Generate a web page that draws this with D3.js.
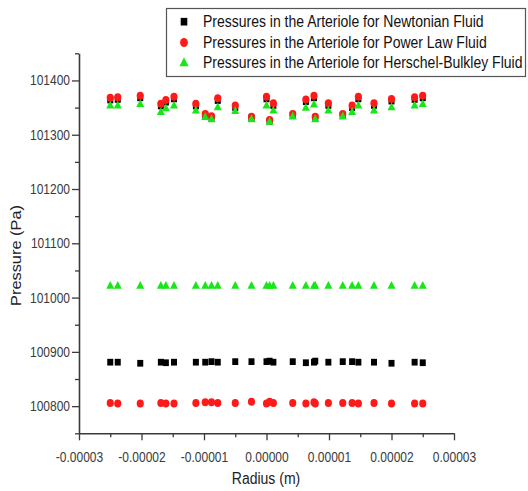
<!DOCTYPE html>
<html>
<head>
<meta charset="utf-8">
<script src="https://cdn.jsdelivr.net/npm/d3@7"></script>
<style>
  html, body { margin: 0; padding: 0; background: #fff; }
  svg { display: block; font-family: "Liberation Sans", Arial, sans-serif; }
</style>
</head>
<body>
<svg id="chart" width="528" height="491"></svg>
<script>
// ---- data (radius in metres, pressure in Pa) ----
const radius = [-2.5e-5, -2.38e-5, -2.02e-5, -1.69e-5, -1.61e-5, -1.48e-5, -1.13e-5, -0.98e-5, -0.88e-5,
  -0.78e-5, -0.5e-5, -0.24e-5, 0, 0.05e-5, 0.11e-5, 0.42e-5, 0.63e-5, 0.76e-5, 0.78e-5, 0.99e-5,
  1.22e-5, 1.37e-5, 1.47e-5, 1.72e-5, 2.0e-5, 2.37e-5, 2.5e-5];

const newtonianUpper = [101364, 101365, 101368, 101353, 101360, 101366, 101353, 101336, 101332,
  101363, 101350, 101331, 101366, 101325, 101354, 101336, 101361, 101368, 101331, 101354,
  101336, 101350, 101366, 101354, 101362, 101365, 101368];
const newtonianLower = [100881, 100881, 100879, 100881, 100880, 100881, 100881, 100881, 100882,
  100881, 100882, 100882, 100882, 100883, 100881, 100882, 100880, 100881, 100883, 100881,
  100882, 100882, 100881, 100881, 100879, 100881, 100880];

const powerLawUpper = [101368, 101369, 101372, 101357, 101364, 101370, 101357, 101338, 101334,
  101367, 101354, 101333, 101370, 101327, 101358, 101338, 101365, 101372, 101333, 101358,
  101338, 101354, 101370, 101358, 101366, 101369, 101372];
const powerLawLower = [100806, 100805, 100805, 100806, 100805, 100805, 100806, 100807, 100807,
  100806, 100806, 100808, 100805, 100808, 100806, 100806, 100805, 100807, 100805, 100806,
  100806, 100806, 100805, 100806, 100805, 100805, 100805];

const herschelUpper = [101353, 101353, 101356, 101341, 101348, 101353, 101344, 101332, 101328,
  101350, 101343, 101328, 101353, 101323, 101344, 101333, 101349, 101355, 101328, 101344,
  101333, 101341, 101353, 101344, 101350, 101353, 101356];
const herschelLower = [101021, 101021, 101021, 101021, 101021, 101021, 101021, 101021, 101021,
  101021, 101021, 101021, 101021, 101021, 101021, 101021, 101021, 101021, 101021, 101021,
  101021, 101021, 101021, 101021, 101021, 101021, 101021];

const seriesNames = [
  "Pressures in the Arteriole for Newtonian Fluid",
  "Pressures in the Arteriole for Power Law Fluid",
  "Pressures in the Arteriole for Herschel-Bulkley Fluid"
];

const xTickValues = [-3e-5, -2e-5, -1e-5, 0, 1e-5, 2e-5, 3e-5];
const xTickLabels = ["-0.00003", "-0.00002", "-0.00001", "0.00000", "0.00001", "0.00002", "0.00003"];
const xMinorValues = [-2.5e-5, -1.5e-5, -0.5e-5, 0.5e-5, 1.5e-5, 2.5e-5];
const yTickValues = [100800, 100900, 101000, 101100, 101200, 101300, 101400];
const yTickLabels = ["100800", "100900", "101000", "101100", "101200", "101300", "101400"];
const yMinorValues = [100750, 100850, 100950, 101050, 101150, 101250, 101350, 101450];

// ---- layout ----
const svg = d3.select("#chart");
const plotLeft = 79, plotRight = 454, plotTop = 53.3, plotBottom = 433.3;
const VS = 1.17; // vertical stretch of the original picture's text
const axisColor = "#3a3a3a";
const labelColor = "#3a3a3a";

const x = d3.scaleLinear().domain([-3e-5, 3e-5]).range([plotLeft, plotRight]);
const y = d3.scaleLinear().domain([100750, 101450]).range([plotBottom, plotTop]);

// minor ticks
const gxMinor = svg.append("g").attr("transform", `translate(0,${plotBottom})`)
  .call(d3.axisBottom(x).tickValues(xMinorValues).tickSize(4).tickFormat(""));
gxMinor.select(".domain").remove();
gxMinor.selectAll("line").attr("stroke", axisColor).attr("stroke-width", 1.3);

const gyMinor = svg.append("g").attr("transform", `translate(${plotLeft},0)`)
  .call(d3.axisLeft(y).tickValues(yMinorValues).tickSize(4).tickFormat(""));
gyMinor.select(".domain").remove();
gyMinor.selectAll("line").attr("stroke", axisColor).attr("stroke-width", 1.3);

// major axes
const gx = svg.append("g").attr("transform", `translate(0,${plotBottom})`)
  .call(d3.axisBottom(x).tickValues(xTickValues).tickSizeInner(7).tickSizeOuter(0).tickPadding(9)
    .tickFormat((d, i) => xTickLabels[i]));
gx.select(".domain").attr("stroke", axisColor).attr("stroke-width", 1.6);
gx.selectAll(".tick line").attr("stroke", axisColor).attr("stroke-width", 1.3);
gx.selectAll(".tick text").attr("fill", labelColor)
  .style("font-size", "12px").style("font-family", "Liberation Sans, Arial, sans-serif")
  .attr("transform", `scale(1,${VS})`);

const gy = svg.append("g").attr("transform", `translate(${plotLeft},0)`)
  .call(d3.axisLeft(y).tickValues(yTickValues).tickSizeInner(7).tickSizeOuter(0).tickPadding(2)
    .tickFormat((d, i) => yTickLabels[i]));
gy.select(".domain").attr("stroke", axisColor).attr("stroke-width", 1.6);
gy.selectAll(".tick line").attr("stroke", axisColor).attr("stroke-width", 1.3);
gy.selectAll(".tick text").attr("fill", labelColor)
  .style("font-size", "12px").style("font-family", "Liberation Sans, Arial, sans-serif")
  .attr("transform", `scale(1,${VS})`);

// axis titles
svg.append("g").attr("transform", `translate(266,484) scale(1,${VS})`)
  .append("text").attr("text-anchor", "middle").attr("fill", "#222")
  .style("font-size", "14px").text("Radius (m)");

svg.append("g").attr("transform", `translate(20.5,255.5) rotate(-90) scale(${VS},1)`)
  .append("text").attr("text-anchor", "middle").attr("fill", "#222")
  .style("font-size", "14px").text("Pressure (Pa)");

// ---- markers ----
const colors = ["#000000", "#ff1a1a", "#19e619"];
const shapes = [d3.symbolSquare, d3.symbolCircle, d3.symbolTriangle];
const sizes = [36, 40, 28];
const seriesData = [
  [newtonianUpper, newtonianLower],
  [powerLawUpper, powerLawLower],
  [herschelUpper, herschelLower]
];

const plot = svg.append("g");
seriesData.forEach((sets, si) => {
  const pts = [];
  sets.forEach(vals => vals.forEach((v, i) => pts.push([radius[i], v])));
  plot.append("g").selectAll("path").data(pts).join("path")
    .attr("transform", d => `translate(${x(d[0])},${y(d[1])}) scale(1,1.12)`)
    .attr("d", d3.symbol().type(shapes[si]).size(sizes[si]))
    .attr("fill", colors[si]);
});

// ---- legend ----
const legend = svg.append("g");
legend.append("rect").attr("x", 166.5).attr("y", 8.5).attr("width", 359).attr("height", 68)
  .attr("fill", "#fff").attr("stroke", "#555").attr("stroke-width", 1.2);
const rowY = [21.7, 42.5, 63.3];
seriesNames.forEach((name, i) => {
  legend.append("path")
    .attr("transform", `translate(184,${rowY[i]}) scale(1,1.15)`)
    .attr("d", d3.symbol().type(shapes[i]).size(sizes[i] + 8))
    .attr("fill", colors[i]);
  legend.append("g").attr("transform", `translate(203,${rowY[i] + 5}) scale(1,${VS})`)
    .append("text").attr("fill", "#111").style("font-size", "14px").text(name);
});
</script>
</body>
</html>
